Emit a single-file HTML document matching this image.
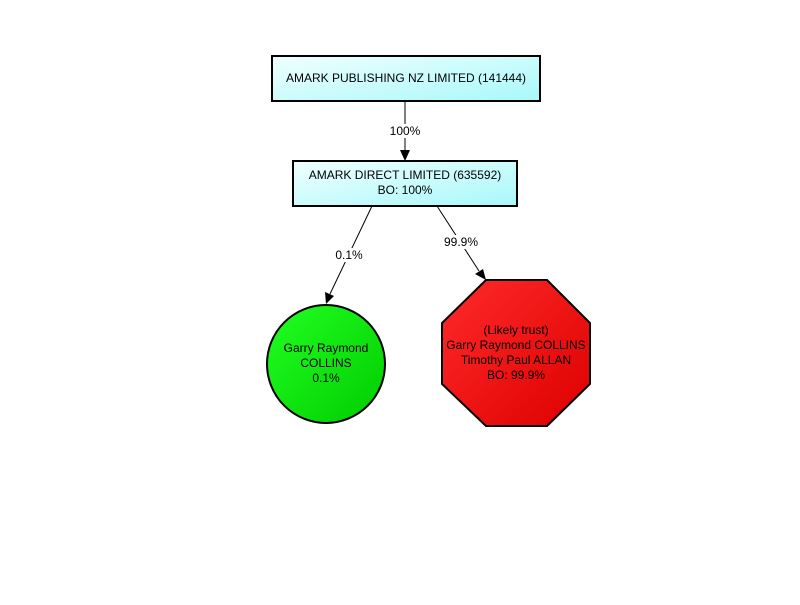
<!DOCTYPE html>
<html><head><style>body{margin:0;background:#fff}</style></head><body>
<svg width="800" height="600" xmlns="http://www.w3.org/2000/svg" font-family="Liberation Sans, Arial, sans-serif" font-size="12">
<defs>
<linearGradient id="c" x1="0" y1="0" x2="1" y2="1"><stop offset="0" stop-color="#f0ffff"/><stop offset="1" stop-color="#a8f8fa"/></linearGradient>
<linearGradient id="g" x1="0" y1="0" x2="1" y2="1"><stop offset="0" stop-color="#22ff22"/><stop offset="1" stop-color="#00cc00"/></linearGradient>
<linearGradient id="r" x1="0" y1="0" x2="1" y2="1"><stop offset="0" stop-color="#ff2a2a"/><stop offset="1" stop-color="#dd0000"/></linearGradient>
</defs>
<rect x="272" y="56" width="268" height="45" fill="url(#c)" stroke="#000" stroke-width="2"/>
<text x="406" y="82" text-anchor="middle">AMARK PUBLISHING NZ LIMITED (141444)</text>
<rect x="293" y="161" width="224" height="45" fill="url(#c)" stroke="#000" stroke-width="2"/>
<text x="405" y="179" text-anchor="middle">AMARK DIRECT LIMITED (635592)</text>
<text x="405" y="194" text-anchor="middle">BO: 100%</text>
<line x1="405" y1="101" x2="405" y2="150" stroke="#000"/>
<polygon points="400,150 410,150 405,161" fill="#000"/>
<rect x="389" y="124" width="33" height="14" fill="#fff"/>
<text x="405" y="135" text-anchor="middle">100%</text>
<line x1="372" y1="206" x2="330" y2="294" stroke="#000"/>
<polygon points="325,292 334,296 326,304" fill="#000"/>
<rect x="335" y="248" width="29" height="14" fill="#fff"/>
<text x="349" y="259" text-anchor="middle">0.1%</text>
<line x1="437" y1="206" x2="479" y2="271" stroke="#000"/>
<polygon points="475,274 483,269 486,280" fill="#000"/>
<rect x="443" y="235" width="36" height="14" fill="#fff"/>
<text x="461" y="246" text-anchor="middle">99.9%</text>
<circle cx="326" cy="364" r="59" fill="url(#g)" stroke="#000" stroke-width="2"/>
<text x="326" y="352" text-anchor="middle">Garry Raymond</text>
<text x="326" y="367" text-anchor="middle">COLLINS</text>
<text x="326" y="382" text-anchor="middle">0.1%</text>
<polygon points="486,280 547,280 590,323 590,384 547,426 486,426 442,384 442,323" fill="url(#r)" stroke="#000" stroke-width="2"/>
<text x="516" y="334" text-anchor="middle">(Likely trust)</text>
<text x="516" y="349" text-anchor="middle">Garry Raymond COLLINS</text>
<text x="516" y="364" text-anchor="middle">Timothy Paul ALLAN</text>
<text x="516" y="379" text-anchor="middle">BO: 99.9%</text>
</svg>
</body></html>
